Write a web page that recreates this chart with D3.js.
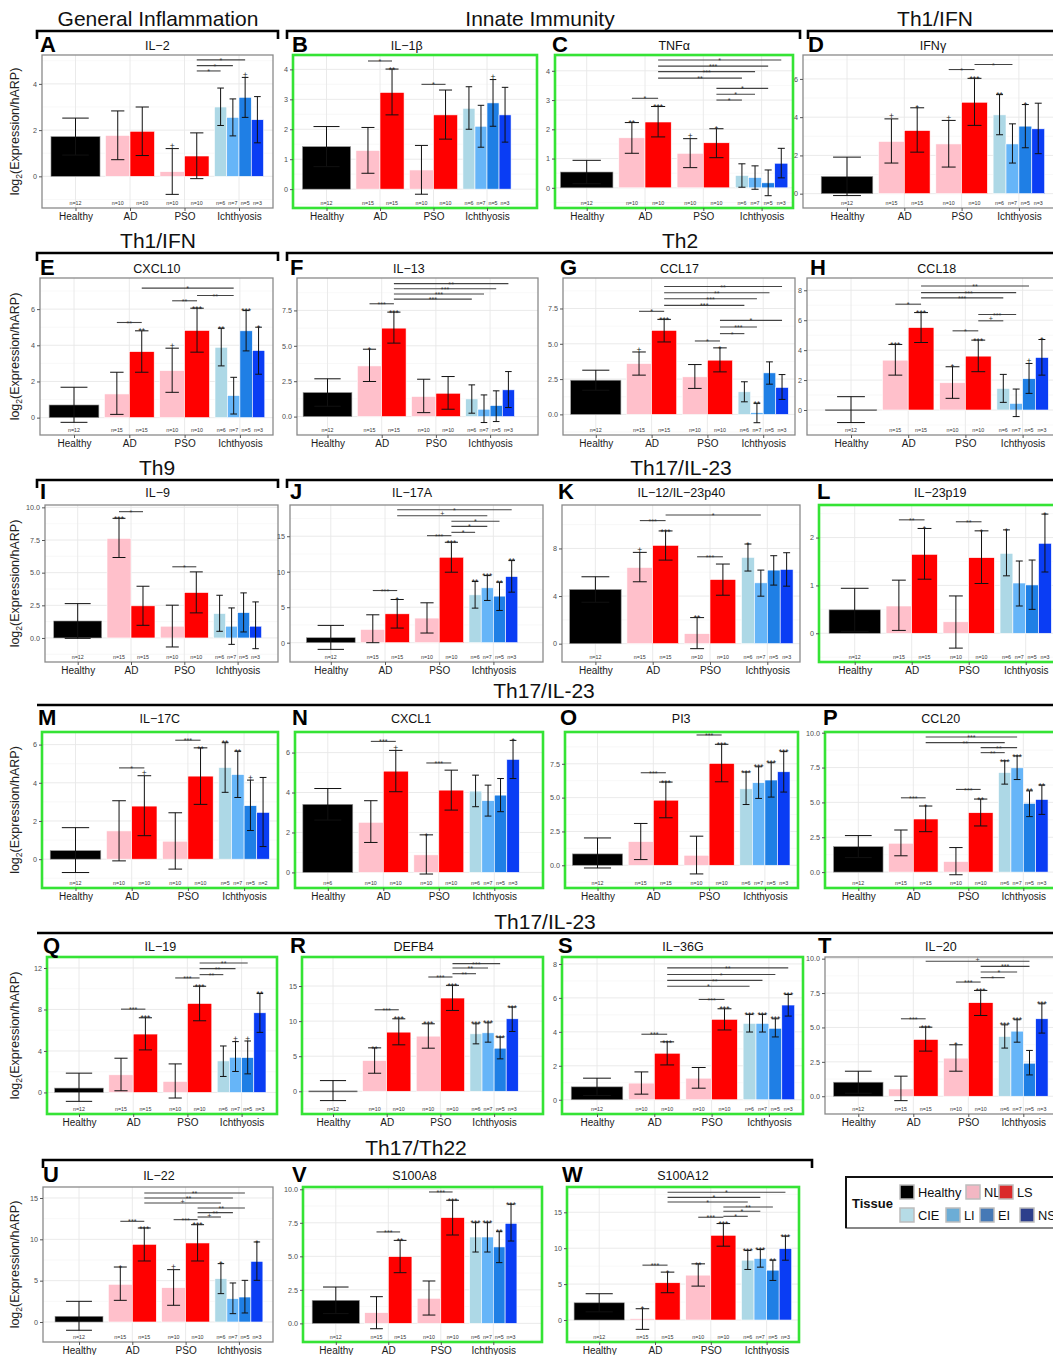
<!DOCTYPE html>
<html>
<head>
<meta charset="utf-8">
<title>Cytokine expression in Healthy, AD, PSO and Ichthyosis skin</title>
<script src="https://d3js.org/d3.v7.min.js"></script>
<style>
  body { margin: 0; background: #fff; }
  svg { display: block; }
</style>
</head>
<body>
<svg width="1053" height="1355"></svg>
<script>
// ---------- shared categories ----------
var categories = ["Healthy", "AD", "PSO", "Ichthyosis"];
var tissues = ["Healthy", "NL", "LS", "NL", "LS", "CIE", "LI", "EI", "NS"];
var groupOf = [0, 1, 1, 2, 2, 3, 3, 3, 3];
var slotOf = [0, 0, 1, 0, 1, 0, 1, 2, 3];
var groupCount = [1, 2, 2, 4];

var n_std = [12, 15, 15, 10, 10, 6, 7, 5, 3];
var n_ad10 = [12, 10, 10, 10, 10, 6, 7, 5, 3];
var n_M = [12, 10, 10, 10, 10, 5, 7, 5, 2];
var n_N = [6, 10, 10, 10, 10, 6, 7, 5, 3];

// ---------- panel data: mean, [lo, hi] error, stars, significance brackets [from, to, y, label] ----------
var A_mean = [1.72, 1.77, 1.95, 0.2, 0.88, 3.0, 2.55, 3.42, 2.45];
var A_err = [[0.92, 2.52], [0.72, 2.83], [0.9, 3.0], [-0.78, 1.2], [-0.1, 1.88], [2.2, 3.82], [1.75, 3.35], [2.55, 4.28], [1.45, 3.45]];
var A_star = ["", "", "", "+", "", "", "", "+", ""];
var A_sig = [[4, 5, 4.56, "*"], [4, 6, 4.79, "*"], [4, 7, 5.04, "*"]];
var A_ticks = ["0", "2", "4"];
var A_ylim = [-1.37, 5.25];

var B_mean = [1.42, 1.29, 3.23, 0.64, 2.48, 2.7, 2.1, 2.88, 2.48];
var B_err = [[0.75, 2.09], [0.53, 2.06], [2.48, 4.01], [-0.17, 1.46], [1.67, 3.31], [2.0, 3.42], [1.4, 2.8], [2.1, 3.66], [1.57, 3.4]];
var B_star = ["", "", "**", "", "", "", "", "+", ""];
var B_sig = [[1, 2, 4.28, "*"], [3, 4, 3.5, "*"]];
var B_ticks = ["0", "1", "2", "3", "4"];
var B_ylim = [-0.63, 4.48];

var C_mean = [0.54, 1.71, 2.25, 1.18, 1.54, 0.42, 0.35, 0.17, 0.84];
var C_err = [[0.14, 0.94], [1.18, 2.23], [1.74, 2.78], [0.69, 1.68], [1.03, 2.02], [0.02, 0.82], [-0.05, 0.75], [-0.27, 0.61], [0.34, 1.35]];
var C_star = ["", "**", "***", "+", "*", "", "", "", ""];
var C_sig = [[1, 2, 3.06, "*"], [2, 5, 3.75, "**"], [2, 6, 3.97, "***"], [2, 7, 4.16, "***"], [2, 8, 4.37, "*"], [4, 5, 3.0, "*"], [4, 6, 3.2, "*"], [4, 7, 3.4, "*"]];
var C_ticks = ["0", "1", "2", "3", "4"];
var C_ylim = [-0.69, 4.54];

var D_mean = [0.9, 2.73, 3.3, 2.6, 4.78, 4.12, 2.6, 3.53, 3.39];
var D_err = [[-0.1, 1.91], [1.6, 3.91], [2.17, 4.49], [1.39, 3.83], [3.57, 6.03], [3.08, 5.18], [1.6, 3.65], [2.4, 4.66], [2.09, 4.73]];
var D_star = ["", "+", "*", "+", "***", "**", "", "*", ""];
var D_sig = [[3, 4, 6.49, "*"], [4, 6, 6.75, "*"]];
var D_ticks = ["0", "2", "4", "6"];
var D_ylim = [-0.75, 7.25];

var E_mean = [0.7, 1.31, 3.65, 2.6, 4.82, 3.89, 1.22, 4.8, 3.71];
var E_err = [[-0.26, 1.68], [0.18, 2.51], [2.51, 4.8], [1.4, 3.84], [3.62, 6.05], [2.86, 4.94], [0.2, 2.23], [3.69, 5.92], [2.4, 5.0]];
var E_star = ["", "", "**", "+", "***", "**", "", "***", "*"];
var E_sig = [[1, 2, 5.26, "**"], [3, 4, 6.46, "**"], [4, 6, 6.75, "**"], [2, 6, 7.16, "*"]];
var E_ticks = ["0", "2", "4", "6"];
var E_ylim = [-0.96, 7.72];

var F_mean = [1.7, 3.58, 6.25, 1.42, 1.65, 1.25, 0.52, 0.78, 1.89];
var F_err = [[0.73, 2.67], [2.48, 4.76], [5.19, 7.38], [0.28, 2.64], [0.52, 2.83], [0.24, 2.24], [-0.42, 1.53], [-0.35, 1.82], [0.64, 3.18]];
var F_star = ["", "*", "***", "", "", "", "", "", ""];
var F_sig = [[1, 2, 7.97, "***"], [2, 5, 8.3, "***"], [2, 6, 8.66, "***"], [2, 7, 9.03, "***"], [2, 8, 9.39, "**"]];
var F_ticks = ["0.0", "2.5", "5.0", "7.5"];
var F_ylim = [-1.3, 9.79];

var G_mean = [2.42, 3.6, 5.95, 2.66, 3.84, 1.6, 0.12, 2.94, 1.91];
var G_err = [[1.71, 3.13], [2.78, 4.42], [5.13, 6.73], [1.84, 3.53], [3.01, 4.71], [0.89, 2.31], [-0.59, 0.78], [2.14, 3.72], [1.06, 2.82]];
var G_star = ["", "+", "***", "", "*", "", "**", "", ""];
var G_sig = [[1, 2, 7.3, "*"], [3, 4, 5.2, "*"], [2, 5, 7.72, "***"], [2, 6, 8.19, "***"], [2, 7, 8.61, "**"], [2, 8, 9.06, "**"], [4, 5, 5.72, "*"], [4, 6, 6.19, "***"], [4, 8, 6.66, "*"]];
var G_ticks = ["0.0", "2.5", "5.0", "7.5"];
var G_ylim = [-1.46, 9.66];

var H_mean = [0.02, 3.33, 5.51, 1.82, 3.6, 1.44, 0.44, 2.09, 3.51];
var H_err = [[-0.84, 0.89], [2.33, 4.38], [4.51, 6.51], [0.78, 2.89], [2.56, 4.67], [0.51, 2.38], [-0.44, 1.4], [1.11, 3.11], [2.33, 4.71]];
var H_star = ["", "***", "***", "*", "***", "", "", "+", "*"];
var H_sig = [[1, 2, 7.07, "*"], [3, 4, 5.29, "*"], [2, 5, 7.49, "***"], [2, 6, 7.84, "***"], [2, 7, 8.29, "**"], [4, 5, 5.96, "+"], [4, 6, 6.38, "***"]];
var H_ticks = ["0", "2", "4", "6", "8"];
var H_ylim = [-1.67, 8.82];

var I_mean = [1.3, 7.62, 2.46, 0.9, 3.48, 1.87, 0.9, 1.94, 0.9];
var I_err = [[-0.03, 2.63], [6.16, 9.16], [0.97, 3.96], [-0.69, 2.51], [1.92, 5.06], [0.51, 3.27], [-0.49, 2.3], [0.46, 3.45], [-0.82, 2.76]];
var I_star = ["", "***", "", "", "", "", "", "", ""];
var I_sig = [[1, 2, 9.67, "*"], [3, 4, 5.45, "*"]];
var I_ticks = ["0.0", "2.5", "5.0", "7.5", "10.0"];
var I_ylim = [-1.84, 10.18];

var J_mean = [0.7, 1.87, 4.07, 3.47, 12.04, 6.74, 7.73, 6.56, 9.32];
var J_err = [[-0.94, 2.44], [0, 3.93], [2.06, 6.09], [1.36, 5.62], [9.93, 14.15], [4.87, 8.62], [5.95, 9.46], [4.54, 8.52], [7.12, 11.57]];
var J_star = ["", "", "*", "", "***", "**", "***", "**", "**"];
var J_sig = [[1, 2, 7.35, "***"], [3, 4, 15.08, "***"], [4, 5, 15.55, "*"], [4, 6, 16.39, "*"], [4, 7, 17.1, "*"], [2, 6, 17.89, "+"], [2, 8, 18.74, "*"]];
var J_ticks = ["0", "5", "10", "15"];
var J_ylim = [-2.72, 19.4];

var K_mean = [4.55, 6.4, 8.26, 0.84, 5.39, 7.25, 5.11, 6.18, 6.24];
var K_err = [[3.48, 5.62], [5.2, 7.67], [7.02, 9.47], [-0.42, 2.19], [4.07, 6.69], [6.1, 8.37], [3.99, 6.18], [4.92, 7.39], [4.83, 7.64]];
var K_star = ["", "+", "***", "**", "", "*", "", "", ""];
var K_sig = [[1, 2, 10.34, "***"], [2, 6, 10.81, "*"], [3, 4, 7.3, "***"]];
var K_ticks = ["0", "4", "8"];
var K_ylim = [-1.54, 11.65];

var L_mean = [0.49, 0.57, 1.65, 0.24, 1.58, 1.67, 1.05, 1.01, 1.88];
var L_err = [[0.04, 0.94], [0.06, 1.11], [1.13, 2.19], [-0.31, 0.78], [1.04, 2.14], [1.2, 2.16], [0.57, 1.51], [0.5, 1.53], [1.28, 2.49]];
var L_star = ["", "", "*", "", "*", "*", "", "", "*"];
var L_sig = [[1, 2, 2.37, "**"], [3, 4, 2.33, "**"]];
var L_ticks = ["0", "1", "2"];
var L_ylim = [-0.6, 2.68];

var M_mean = [0.45, 1.48, 2.78, 0.94, 4.35, 4.8, 4.43, 2.8, 2.45];
var M_err = [[-0.7, 1.65], [-0.09, 3.06], [1.23, 4.37], [-0.52, 2.43], [2.87, 5.83], [3.5, 6.1], [3.23, 5.65], [1.5, 4.14], [0.66, 4.28]];
var M_star = ["", "", "+", "", "**", "**", "**", "+", ""];
var M_sig = [[1, 2, 4.78, "*"], [3, 4, 6.23, "***"]];
var M_ticks = ["0", "2", "4", "6"];
var M_ylim = [-1.51, 6.66];

var N_mean = [3.41, 2.51, 5.07, 0.88, 4.12, 4.07, 3.59, 3.87, 5.66];
var N_err = [[2.62, 4.2], [1.5, 3.59], [4.04, 6.11], [-0.08, 1.88], [3.12, 5.12], [3.29, 4.87], [2.82, 4.37], [3.04, 4.7], [4.7, 6.61]];
var N_star = ["", "", "+", "*", "", "", "", "", "*"];
var N_sig = [[1, 2, 6.56, "***"], [3, 4, 5.48, "***"]];
var N_ticks = ["0", "2", "4", "6"];
var N_ylim = [-0.78, 7.03];

var O_mean = [0.84, 1.75, 4.81, 0.74, 7.53, 5.65, 6.1, 6.3, 6.91];
var O_err = [[-0.2, 2.02], [0.42, 3.09], [3.51, 6.15], [-0.64, 2.15], [6.17, 8.94], [4.49, 6.89], [4.94, 7.28], [5.04, 7.58], [5.41, 8.4]];
var O_star = ["", "", "***", "", "***", "***", "***", "***", "***"];
var O_sig = [[1, 2, 6.84, "***"], [3, 4, 9.63, "***"]];
var O_ticks = ["0.0", "2.5", "5.0", "7.5"];
var O_ylim = [-1.68, 9.85];

var P_mean = [1.83, 2.07, 3.81, 0.76, 4.26, 7.14, 7.48, 4.93, 5.21];
var P_err = [[1.04, 2.62], [1.17, 3.02], [2.9, 4.74], [-0.19, 1.76], [3.31, 5.24], [6.31, 7.98], [6.64, 8.33], [3.98, 5.83], [4.14, 6.24]];
var P_star = ["", "", "*", "", "**", "***", "***", "**", "**"];
var P_sig = [[1, 2, 5.33, "***"], [3, 4, 5.93, "***"], [4, 5, 8.57, "**"], [4, 6, 8.93, "**"], [2, 5, 9.29, "**"], [2, 6, 9.69, "***"]];
var P_ticks = ["0.0", "2.5", "5.0", "7.5", "10.0"];
var P_ylim = [-1.14, 10.05];

var Q_mean = [0.42, 1.7, 5.63, 1.06, 8.58, 3.04, 3.39, 3.36, 7.68];
var Q_err = [[-0.86, 1.86], [0.16, 3.3], [4.1, 7.2], [-0.54, 2.75], [6.91, 10.24], [1.54, 4.48], [2.02, 4.9], [1.79, 4.96], [5.79, 9.54]];
var Q_star = ["", "", "***", "", "***", "", "+", "+", "**"];
var Q_sig = [[1, 2, 8.03, "***"], [3, 4, 11.04, "***"], [4, 5, 11.36, "**"], [4, 6, 11.94, "**"], [4, 7, 12.48, "**"]];
var Q_ticks = ["0", "4", "8", "12"];
var Q_ylim = [-2.08, 13.06];

var R_mean = [0.05, 4.38, 8.43, 7.86, 13.29, 8.19, 8.33, 6.14, 10.33];
var R_err = [[-1.33, 1.52], [2.57, 6.19], [6.62, 10.33], [6.14, 9.62], [11.52, 15.1], [6.76, 9.62], [7.0, 9.76], [4.62, 7.71], [8.52, 12.0]];
var R_star = ["", "**", "***", "***", "***", "***", "***", "***", "***"];
var R_sig = [[1, 2, 11.62, "***"], [3, 4, 16.29, "***"], [4, 5, 16.76, "**"], [4, 6, 17.57, "**"], [4, 7, 18.19, "***"]];
var R_ticks = ["0", "5", "10", "15"];
var R_ylim = [-3.24, 19.14];

var S_mean = [0.76, 0.98, 2.74, 1.27, 4.74, 4.5, 4.5, 4.21, 5.58];
var S_err = [[0.25, 1.27], [0.33, 1.64], [2.05, 3.41], [0.68, 1.9], [4.11, 5.36], [3.99, 5.03], [3.99, 5.03], [3.7, 4.77], [4.93, 6.2]];
var S_star = ["", "", "***", "", "***", "***", "***", "***", "***"];
var S_sig = [[1, 2, 3.86, "***"], [3, 4, 5.91, "***"], [2, 5, 6.69, "*"], [2, 6, 7.03, "**"], [2, 7, 7.38, "*"], [2, 8, 7.77, "**"]];
var S_ticks = ["0", "2", "4", "6", "8"];
var S_ylim = [-0.84, 8.41];

var T_mean = [1.02, 0.53, 4.13, 2.77, 6.8, 4.34, 4.73, 2.4, 5.63];
var T_err = [[0.22, 1.82], [-0.32, 1.46], [3.28, 5.02], [1.82, 3.74], [5.87, 7.69], [3.5, 5.19], [3.93, 5.56], [1.55, 3.33], [4.59, 6.72]];
var T_star = ["", "", "***", "*", "***", "***", "***", "", "***"];
var T_sig = [[1, 2, 5.63, "***"], [3, 4, 8.3, "***"], [4, 5, 8.62, "*"], [4, 6, 9.03, "*"], [4, 7, 9.44, "***"], [2, 7, 9.81, "+"]];
var T_ticks = ["0.0", "2.5", "5.0", "7.5", "10.0"];
var T_ylim = [-1.29, 10.12];

var U_mean = [0.69, 4.56, 9.4, 4.15, 9.56, 5.24, 2.82, 3.02, 7.34];
var U_err = [[-1.0, 2.5], [2.62, 6.65], [7.38, 11.37], [2.02, 6.33], [7.38, 11.77], [3.43, 7.06], [1.01, 4.72], [1.09, 5.04], [5.04, 9.68]];
var U_star = ["", "*", "***", "+", "***", "*", "", "", "*"];
var U_sig = [[1, 2, 12.18, "***"], [3, 4, 12.38, "***"], [4, 5, 12.7, "+"], [4, 6, 13.23, "**"], [4, 7, 13.79, "**"], [2, 5, 14.4, "+"], [2, 6, 15.0, "**"], [2, 7, 15.6, "**"]];
var U_ticks = ["0", "5", "10", "15"];
var U_ylim = [-2.42, 16.33];

var V_mean = [1.72, 0.8, 4.98, 1.87, 7.89, 6.44, 6.44, 5.7, 7.46];
var V_err = [[0.73, 2.71], [-0.4, 1.99], [3.78, 6.19], [0.62, 3.16], [6.59, 9.18], [5.32, 7.51], [5.32, 7.51], [4.53, 6.84], [6.14, 8.88]];
var V_star = ["", "", "**", "", "***", "***", "***", "**", "***"];
var V_sig = [[1, 2, 6.82, "***"], [3, 4, 9.8, "***"]];
var V_ticks = ["0.0", "2.5", "5.0", "7.5", "10.0"];
var V_ylim = [-1.39, 10.17];

var W_mean = [2.4, 0.19, 5.19, 6.25, 11.8, 8.33, 8.56, 6.94, 9.95];
var W_err = [[1.14, 3.66], [-1.3, 1.57], [3.8, 6.67], [4.72, 7.82], [10.28, 13.43], [7.04, 9.68], [7.36, 9.81], [5.51, 8.33], [8.33, 11.67]];
var W_star = ["", "*", "*", "**", "***", "***", "***", "**", "***"];
var W_sig = [[1, 2, 7.64, "***"], [3, 4, 14.31, "***"], [4, 5, 14.44, "*"], [4, 6, 15.14, "*"], [4, 7, 15.74, "**"], [2, 5, 16.44, "*"], [2, 6, 17.08, "*"], [2, 8, 17.78, "*"]];
var W_ticks = ["0", "5", "10", "15"];
var W_ylim = [-3.06, 18.52];

var groupTitles = ["General Inflammation", "Innate Immunity", "Th1/IFN", "Th1/IFN", "Th2", "Th9",
                   "Th17/IL-23", "Th17/IL-23", "Th17/IL-23", "Th17/Th22"];
var legendKeys = ["Healthy", "NL", "LS", "CIE", "LI", "EI", "NS"];

// ---------- styling / layout ----------
var FONT = "'Liberation Sans', Arial, Helvetica, sans-serif";
var barColor = { Healthy: "#000000", NL: "#ffc0cb", LS: "#ff0000", CIE: "#add8e6", LI: "#66b5f8", EI: "#1f7fe5", NS: "#0a3df4" };
var legendColor = ["#000000", "#f3b7c3", "#da2a2b", "#b6dce6", "#6cadd6", "#4679b6", "#2d3f8c"];

var rowTop = [55, 278, 505, 732, 957, 1187];
var rowBot = [208, 435, 662, 888, 1114, 1342];
var letterY = [52, 275, 499, 725, 953, 1182];

var panels = [
  { id: "A", title: "IL\u22122", row: 0, col: 0, left: 42, right: 273, c1: 75.5, step: 54.5, lx: 40, green: false, mean: A_mean, err: A_err, star: A_star, sig: A_sig, ticks: A_ticks, ylim: A_ylim, n: n_ad10 },
  { id: "B", title: "IL\u22121\u03b2", row: 0, col: 1, left: 293, right: 537, c1: 326.5, step: 53.5, lx: 292, green: true, mean: B_mean, err: B_err, star: B_star, sig: B_sig, ticks: B_ticks, ylim: B_ylim, n: n_std },
  { id: "C", title: "TNF\u03b1", row: 0, col: 2, left: 555, right: 793, c1: 586.7, step: 58.3, lx: 552, green: true, mean: C_mean, err: C_err, star: C_star, sig: C_sig, ticks: C_ticks, ylim: C_ylim, n: n_ad10 },
  { id: "D", title: "IFN\u03b3", row: 0, col: 3, left: 803, right: 1070, c1: 847, step: 57.3, lx: 808, green: false, mean: D_mean, err: D_err, star: D_star, sig: D_sig, ticks: D_ticks, ylim: D_ylim, n: n_std },
  { id: "E", title: "CXCL10", row: 1, col: 0, left: 40, right: 273, c1: 74, step: 55.3, lx: 40, green: false, mean: E_mean, err: E_err, star: E_star, sig: E_sig, ticks: E_ticks, ylim: E_ylim, n: n_std },
  { id: "F", title: "IL\u221213", row: 1, col: 1, left: 297, right: 538, c1: 327.5, step: 54.2, lx: 290, green: false, mean: F_mean, err: F_err, star: F_star, sig: F_sig, ticks: F_ticks, ylim: F_ylim, n: n_std },
  { id: "G", title: "CCL17", row: 1, col: 2, left: 563, right: 795, c1: 595.8, step: 55.8, lx: 560, green: false, mean: G_mean, err: G_err, star: G_star, sig: G_sig, ticks: G_ticks, ylim: G_ylim, n: n_std },
  { id: "H", title: "CCL18", row: 1, col: 3, left: 807, right: 1070, c1: 851, step: 57.2, lx: 810, green: false, mean: H_mean, err: H_err, star: H_star, sig: H_sig, ticks: H_ticks, ylim: H_ylim, n: n_std },
  { id: "I", title: "IL\u22129", row: 2, col: 0, left: 45, right: 278, c1: 77.7, step: 53.3, lx: 40, green: false, mean: I_mean, err: I_err, star: I_star, sig: I_sig, ticks: I_ticks, ylim: I_ylim, n: n_std },
  { id: "J", title: "IL\u221217A", row: 2, col: 1, left: 290, right: 543, c1: 330.8, step: 54.2, lx: 290, green: false, mean: J_mean, err: J_err, star: J_star, sig: J_sig, ticks: J_ticks, ylim: J_ylim, n: n_std },
  { id: "K", title: "IL\u221212/IL\u221223p40", row: 2, col: 2, left: 562, right: 800, c1: 595.4, step: 57.3, lx: 558, green: false, mean: K_mean, err: K_err, star: K_star, sig: K_sig, ticks: K_ticks, ylim: K_ylim, n: n_std },
  { id: "L", title: "IL\u221223p19", row: 2, col: 3, left: 819, right: 1070, c1: 854.7, step: 57, lx: 817, green: true, mean: L_mean, err: L_err, star: L_star, sig: L_sig, ticks: L_ticks, ylim: L_ylim, n: n_std },
  { id: "M", title: "IL\u221217C", row: 3, col: 0, left: 42, right: 278, c1: 75.5, step: 56.2, lx: 38, green: true, mean: M_mean, err: M_err, star: M_star, sig: M_sig, ticks: M_ticks, ylim: M_ylim, n: n_M },
  { id: "N", title: "CXCL1", row: 3, col: 1, left: 295, right: 543, c1: 327.8, step: 55.5, lx: 292, green: true, mean: N_mean, err: N_err, star: N_star, sig: N_sig, ticks: N_ticks, ylim: N_ylim, n: n_N },
  { id: "O", title: "PI3", row: 3, col: 2, left: 565, right: 798, c1: 597.5, step: 55.8, lx: 560, green: true, mean: O_mean, err: O_err, star: O_star, sig: O_sig, ticks: O_ticks, ylim: O_ylim, n: n_std },
  { id: "P", title: "CCL20", row: 3, col: 3, left: 825, right: 1070, c1: 858.3, step: 55, lx: 823, green: true, mean: P_mean, err: P_err, star: P_star, sig: P_sig, ticks: P_ticks, ylim: P_ylim, n: n_std },
  { id: "Q", title: "IL\u221219", row: 4, col: 0, left: 47, right: 277, c1: 79, step: 54.2, lx: 43, green: true, mean: Q_mean, err: Q_err, star: Q_star, sig: Q_sig, ticks: Q_ticks, ylim: Q_ylim, n: n_std },
  { id: "R", title: "DEFB4", row: 4, col: 1, left: 302, right: 543, c1: 333, step: 53.7, lx: 290, green: true, mean: R_mean, err: R_err, star: R_star, sig: R_sig, ticks: R_ticks, ylim: R_ylim, n: n_ad10 },
  { id: "S", title: "IL\u221236G", row: 4, col: 2, left: 562, right: 803, c1: 597, step: 57.3, lx: 558, green: true, mean: S_mean, err: S_err, star: S_star, sig: S_sig, ticks: S_ticks, ylim: S_ylim, n: n_ad10 },
  { id: "T", title: "IL\u221220", row: 4, col: 3, left: 825, right: 1070, c1: 858.3, step: 55, lx: 818, green: false, mean: T_mean, err: T_err, star: T_star, sig: T_sig, ticks: T_ticks, ylim: T_ylim, n: n_std },
  { id: "U", title: "IL\u221222", row: 5, col: 0, left: 43, right: 273, c1: 79, step: 53.3, lx: 43, green: false, mean: U_mean, err: U_err, star: U_star, sig: U_sig, ticks: U_ticks, ylim: U_ylim, n: n_std },
  { id: "V", title: "S100A8", row: 5, col: 1, left: 303, right: 542, c1: 335.8, step: 52.5, lx: 292, green: true, mean: V_mean, err: V_err, star: V_star, sig: V_sig, ticks: V_ticks, ylim: V_ylim, n: n_std },
  { id: "W", title: "S100A12", row: 5, col: 2, left: 567, right: 799, c1: 599.2, step: 55.8, lx: 562, green: true, mean: W_mean, err: W_err, star: W_star, sig: W_sig, ticks: W_ticks, ylim: W_ylim, n: n_std }
];

var svg = d3.select("svg");
svg.append("rect").attr("width", 1053).attr("height", 1355).attr("fill", "#fff");

// baseline shift so the glyph sits just above a given y
function starOffset(s, fs) { return s.indexOf("+") >= 0 ? 0.6 : 0.43 * fs; }

function drawPanel(p) {
  var top = rowTop[p.row], bot = rowBot[p.row];
  var y = d3.scaleLinear().domain(p.ylim).range([bot, top]);
  var xc = d3.scalePoint().domain(categories).range([p.c1, p.c1 + 3 * p.step]);
  var g = svg.append("g");

  svg.append("clipPath").attr("id", "clip" + p.id)
    .append("rect").attr("x", p.left).attr("y", top).attr("width", p.right - p.left).attr("height", bot - top);
  var inner = g.append("g").attr("clip-path", "url(#clip" + p.id + ")");

  // grid
  var tv = p.ticks.map(Number);
  var st = tv[1] - tv[0];
  var minor = [];
  for (var t = tv[0] - st / 2; t <= p.ylim[1]; t += st) if (t >= p.ylim[0]) minor.push(t);
  inner.selectAll(".mn").data(minor).join("line")
    .attr("x1", p.left).attr("x2", p.right).attr("y1", d => y(d)).attr("y2", d => y(d))
    .attr("stroke", "#f3f3f3").attr("stroke-width", 0.6);
  inner.selectAll(".mj").data(tv).join("line")
    .attr("x1", p.left).attr("x2", p.right).attr("y1", d => y(d)).attr("y2", d => y(d))
    .attr("stroke", "#e8e8e8").attr("stroke-width", 0.9);
  inner.selectAll(".vx").data(categories).join("line")
    .attr("x1", d => xc(d)).attr("x2", d => xc(d)).attr("y1", top).attr("y2", bot)
    .attr("stroke", "#e8e8e8").attr("stroke-width", 0.9);

  var bars = p.mean.map(function (m, i) {
    var gi = groupOf[i], cnt = groupCount[gi];
    var w = 0.9 / cnt * p.step;
    var cx = xc(categories[gi]) + (slotOf[i] - (cnt - 1) / 2) * w;
    return { m: m, lo: p.err[i][0], hi: p.err[i][1], cx: cx, w: w, t: tissues[i], star: p.star[i], n: p.n[i] };
  });

  inner.selectAll(".bar").data(bars).join("rect")
    .attr("x", d => d.cx - d.w / 2)
    .attr("y", d => Math.min(y(d.m), y(0)))
    .attr("width", d => d.w)
    .attr("height", d => Math.max(1, Math.abs(y(d.m) - y(0))))
    .attr("fill", d => barColor[d.t])
    .attr("stroke", d => d.t === "Healthy" ? "#9a9a9a" : "#ffffff")
    .attr("stroke-width", 0.6);

  // error bars
  inner.selectAll(".eb").data(bars).join("path")
    .attr("d", function (d) {
      var cw = d.w * 0.27, x = d.cx, y1 = y(d.lo), y2 = y(d.hi);
      return "M" + (x - cw) + "," + y2 + "H" + (x + cw) + "M" + x + "," + y2 + "V" + y1 +
             "M" + (x - cw) + "," + y1 + "H" + (x + cw);
    })
    .attr("fill", "none").attr("stroke", "#111").attr("stroke-width", 1);

  // stars above error bars
  inner.selectAll(".st").data(bars.filter(d => d.star)).join("text")
    .attr("x", d => d.cx).attr("y", d => y(d.hi) + starOffset(d.star, 8.5))
    .attr("text-anchor", "middle").attr("font-size", 8.5).attr("font-family", FONT)
    .attr("fill", "#222").text(d => d.star);

  // significance brackets
  var sg = inner.selectAll(".sg").data(p.sig).join("g");
  sg.append("line")
    .attr("x1", d => bars[d[0]].cx).attr("x2", d => bars[d[1]].cx)
    .attr("y1", d => y(d[2])).attr("y2", d => y(d[2]))
    .attr("stroke", "#444").attr("stroke-width", 1.1);
  sg.append("text")
    .attr("x", d => (bars[d[0]].cx + bars[d[1]].cx) / 2).attr("y", d => y(d[2]) + starOffset(d[3], 7.2))
    .attr("text-anchor", "middle").attr("font-size", 7.2).attr("font-family", FONT)
    .attr("fill", "#333").text(d => d[3]);

  // n labels
  inner.selectAll(".nl").data(bars).join("text")
    .attr("x", d => d.cx).attr("y", bot - 3.5)
    .attr("text-anchor", "middle").attr("font-size", 5.3).attr("font-family", FONT)
    .attr("fill", "#333").text(d => "n=" + d.n);

  // frame
  g.append("rect").attr("x", p.left).attr("y", top).attr("width", p.right - p.left).attr("height", bot - top)
    .attr("fill", "none")
    .attr("stroke", p.green ? "#35e335" : "#8a8a8a")
    .attr("stroke-width", p.green ? 2.6 : 1.3);

  // axes
  var ya = g.append("g").attr("transform", "translate(" + p.left + ",0)")
    .call(d3.axisLeft(y).tickValues(tv).tickFormat((d, i) => p.ticks[i]).tickSize(3).tickPadding(2));
  ya.select(".domain").remove();
  ya.attr("font-family", FONT).attr("font-size", 7.2);
  ya.selectAll("text").attr("fill", "#4d4d4d");
  ya.selectAll("line").attr("stroke", "#555");

  var xa = g.append("g").attr("transform", "translate(0," + bot + ")")
    .call(d3.axisBottom(xc).tickSize(3).tickPadding(1.5));
  xa.select(".domain").remove();
  xa.attr("font-family", FONT).attr("font-size", 10);
  xa.selectAll("text").attr("fill", "#1a1a1a");
  xa.selectAll("line").attr("stroke", "#555");

  // letter and gene title
  g.append("text").attr("x", p.lx).attr("y", letterY[p.row])
    .attr("font-family", FONT).attr("font-weight", "bold").attr("font-size", 22).attr("fill", "#000").text(p.id);
  g.append("text").attr("x", p.c1 + 1.5 * p.step).attr("y", letterY[p.row] - 2.5)
    .attr("text-anchor", "middle").attr("font-family", FONT).attr("font-size", 12.5).attr("fill", "#111").text(p.title);

  if (p.col === 0) {
    var yl = g.append("text")
      .attr("transform", "translate(19," + ((top + bot) / 2) + ") rotate(-90)")
      .attr("text-anchor", "middle").attr("font-family", FONT).attr("font-size", 12.5).attr("fill", "#222");
    yl.append("tspan").text("log");
    yl.append("tspan").attr("font-size", 8.5).attr("dy", 3).text("2");
    yl.append("tspan").attr("dy", -3).text("(Expression/hARP)");
  }
}

panels.forEach(drawPanel);

// ---------- group brackets ----------
var bracketY = [31, 253, 480, 705, 933, 1160];
var titleY = [26, 248, 475, 698, 929, 1155];
var brackets = [
  { t: 0, row: 0, x1: 37, x2: 278, l: true, r: true, tx: 158 },
  { t: 1, row: 0, x1: 287, x2: 800, l: true, r: true, tx: 540 },
  { t: 2, row: 0, x1: 808, x2: 1060, l: true, r: false, tx: 935 },
  { t: 3, row: 1, x1: 37, x2: 278, l: true, r: true, tx: 158 },
  { t: 4, row: 1, x1: 287, x2: 1060, l: true, r: false, tx: 680 },
  { t: 5, row: 2, x1: 37, x2: 278, l: true, r: true, tx: 157 },
  { t: 6, row: 2, x1: 287, x2: 1060, l: true, r: false, tx: 681 },
  { t: 7, row: 3, x1: 37, x2: 1060, l: false, r: false, tx: 544 },
  { t: 8, row: 4, x1: 37, x2: 1060, l: false, r: false, tx: 545 },
  { t: 9, row: 5, x1: 43, x2: 812, l: true, r: true, tx: 416 }
];
var bg = svg.append("g");
brackets.forEach(function (b) {
  var yy = bracketY[b.row];
  var d = (b.l ? "M" + b.x1 + "," + (yy + 8) + "V" + yy : "M" + b.x1 + "," + yy) + "H" + b.x2 + (b.r ? "V" + (yy + 8) : "");
  bg.append("path").attr("d", d).attr("fill", "none").attr("stroke", "#000").attr("stroke-width", 2.6);
  bg.append("text").attr("x", b.tx).attr("y", titleY[b.row]).attr("text-anchor", "middle")
    .attr("font-family", FONT).attr("font-size", 21).attr("fill", "#111").text(groupTitles[b.t]);
});

// ---------- legend ----------
var lg = svg.append("g");
lg.append("path").attr("d", "M1060,1177H846V1228H1060").attr("fill", "none").attr("stroke", "#111").attr("stroke-width", 1.2);
lg.append("path").attr("d", "M1060,1177H846V1228").attr("fill", "none").attr("stroke", "#111").attr("stroke-width", 2);
lg.append("text").attr("x", 852).attr("y", 1208).attr("font-family", FONT).attr("font-weight", "bold")
  .attr("font-size", 13).attr("fill", "#111").text("Tissue");
var keyX = [900, 966, 999, 900, 946, 980, 1020];
var keyRow = [0, 0, 0, 1, 1, 1, 1];
var keys = lg.selectAll(".key").data(legendKeys).join("g")
  .attr("transform", (d, i) => "translate(" + keyX[i] + "," + (1185 + keyRow[i] * 23) + ")");
keys.append("rect").attr("width", 14).attr("height", 14)
  .attr("fill", (d, i) => legendColor[i]).attr("stroke", "#bdbdbd").attr("stroke-width", 1.5);
keys.append("text").attr("x", 18).attr("y", 12).attr("font-family", FONT).attr("font-size", 12.8)
  .attr("fill", "#111").text(d => d);
</script>
</body>
</html>
